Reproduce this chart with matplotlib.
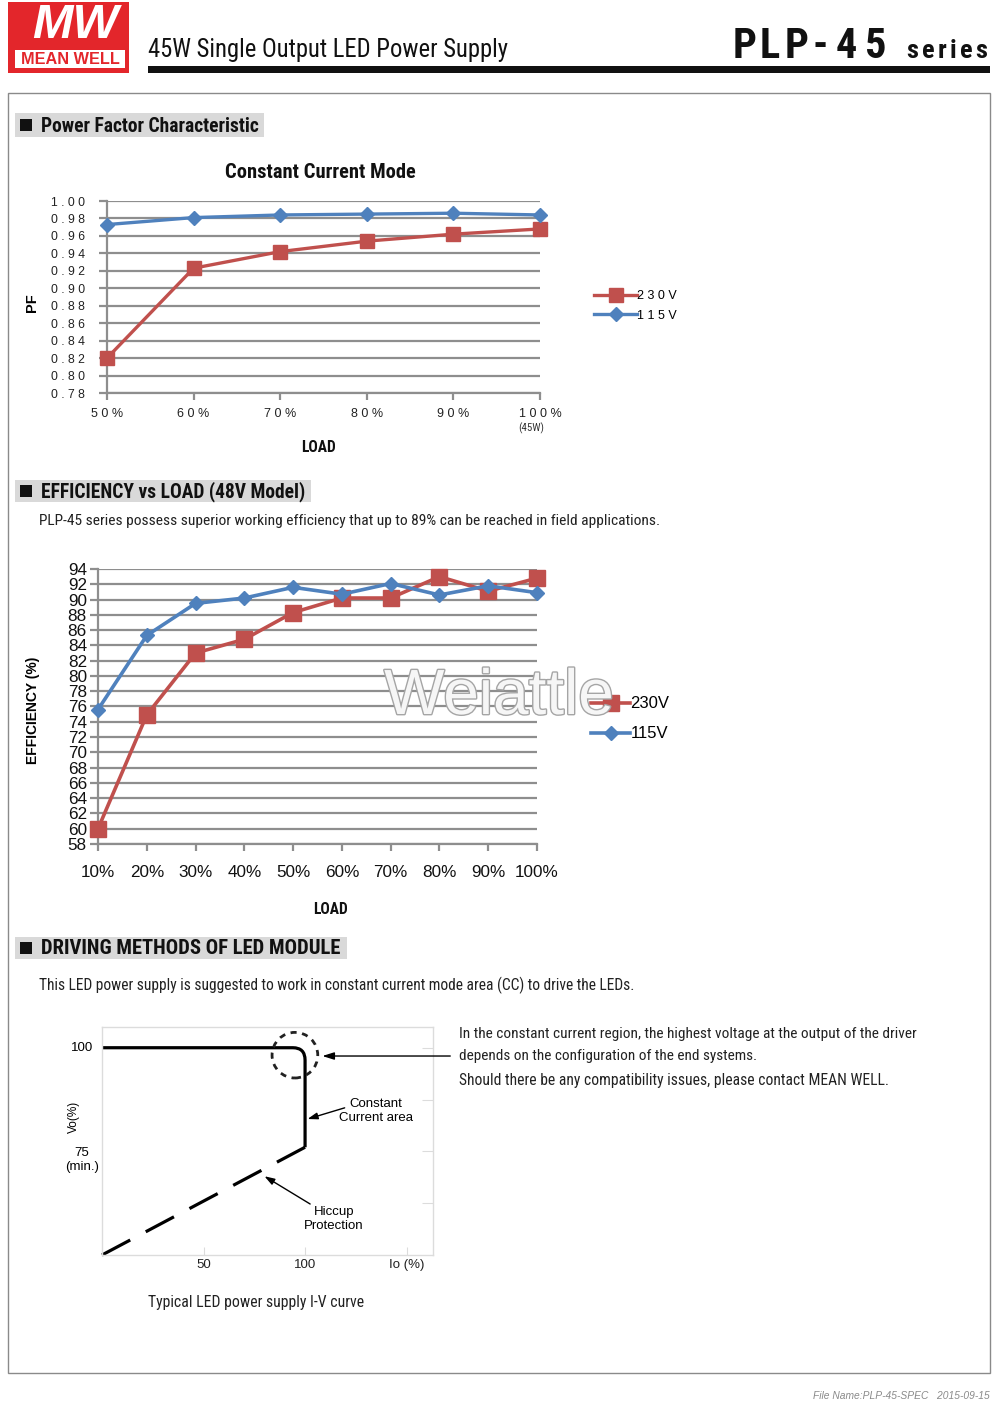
import os
import matplotlib
matplotlib.use('Agg')
import matplotlib.pyplot as plt
from matplotlib import font_manager as fm
from matplotlib.patches import Rectangle, Ellipse, PathPatch
from matplotlib.path import Path
import matplotlib.patheffects as pe

# ---------------- data ----------------
pf_load = ['5 0 %', '6 0 %', '7 0 %', '8 0 %', '9 0 %', '1 0 0 %']
pf_230 = [0.820, 0.923, 0.942, 0.954, 0.962, 0.968]
pf_115 = [0.973, 0.981, 0.984, 0.985, 0.986, 0.984]
pf_yticks = [0.78, 0.80, 0.82, 0.84, 0.86, 0.88, 0.90, 0.92, 0.94, 0.96, 0.98, 1.00]

eff_load = ['10%', '20%', '30%', '40%', '50%', '60%', '70%', '80%', '90%', '100%']
eff_230 = [60.0, 74.9, 83.0, 84.8, 88.3, 90.2, 90.2, 93.0, 91.1, 92.8]
eff_115 = [75.6, 85.3, 89.5, 90.2, 91.6, 90.7, 92.1, 90.6, 91.8, 90.9]
eff_yticks = list(range(58, 95, 2))

iv_cc_io = [0, 94, 100, 100, 100]
iv_cc_vo = [100, 100, 100, 97, 76]
iv_hiccup_io = [0, 100]
iv_hiccup_vo = [50, 76]
iv_xticks = [50, 100, 150]
iv_xlabels = ['50', '100', 'Io (%)']
iv_yticks = [62.5, 75, 87.5, 100]

# ---------------- helpers ----------------
W, H = 1000, 1402
fig = plt.figure(figsize=(10, 14.02), dpi=100)
fig.patch.set_facecolor('white')
renderer = fig.canvas.get_renderer()

SANS = ['Liberation Sans', 'DejaVu Sans']
RED = '#C0504D'
BLUE = '#4F81BD'
GRID = '#8e8e8e'
LOGO_RED = '#e3262b'


def _w(f):
    w = f.weight
    if isinstance(w, str):
        w = fm.weight_dict.get(w, 400)
    return w


def pick_condensed(bold):
    target = 700 if bold else 400
    best, best_score = None, 99.0
    for f in fm.fontManager.ttflist:
        fn = os.path.basename(f.fname).lower()
        name = f.name.lower()
        if f.style != 'normal':
            continue
        w = _w(f)
        if abs(w - target) > 120:
            continue
        cond = ('narrow' in name or 'narrow' in fn or 'condensed' in name
                or 'condensed' in fn or f.stretch in ('condensed', 'semi-condensed'))
        if not cond:
            continue
        if any(k in fn for k in ('semi', 'extra', 'ultra', 'mono', 'serif', 'italic', 'oblique')):
            continue
        if 'mono' in name or 'serif' in name or 'cjk' in name:
            continue
        if 'liberation' in name:
            score = 0
        elif 'noto sans' in name:
            score = 1
        elif 'roboto' in name:
            score = 1.5
        elif 'dejavu' in name:
            score = 2
        else:
            score = 3
        score += abs(w - target) / 1000
        if score < best_score:
            best, best_score = f, score
    if best is None:
        return fm.FontProperties(family=SANS, weight='bold' if bold else 'normal')
    return fm.FontProperties(fname=best.fname)


NARROW_R = pick_condensed(False)
NARROW_B = pick_condensed(True)


def fx(x):
    return x / W


def fy(y):
    return 1 - y / H


def axes_px(x0, y0, x1, y1):
    return fig.add_axes([fx(x0), fy(y1), (x1 - x0) / W, (y1 - y0) / H])


def rect_px(x0, y0, x1, y1, **kw):
    r = Rectangle((fx(x0), fy(y1)), (x1 - x0) / W, (y1 - y0) / H,
                  transform=fig.transFigure, **kw)
    fig.add_artist(r)
    return r


def text_px(x, y, s, **kw):
    kw.setdefault('va', 'center')
    return fig.text(fx(x), fy(y), s, **kw)


def fit_text(x, y, s, width, fp, size=12, **kw):
    p = fp.copy()
    p.set_size(size)
    t = text_px(x, y, s, fontproperties=p, **kw)
    wcur = t.get_window_extent(renderer).width
    p2 = fp.copy()
    p2.set_size(size * width / wcur)
    t.set_fontproperties(p2)
    return t


def section(y0, y1, x1, s, width):
    rect_px(15, y0, x1, y1, facecolor='#d9d9d9', edgecolor='none')
    yc = (y0 + y1) / 2
    rect_px(20, yc - 6, 32, yc + 6, facecolor='#111111', edgecolor='none')
    fit_text(41, yc + 1, s, width, NARROW_B, 14, color='#111111')


# ---------------- header ----------------
rect_px(8, 2, 129, 73, facecolor=LOGO_RED, edgecolor='none')
text_px(75, 25, 'MW', fontsize=35, fontweight='bold', style='italic', color='white',
        family=SANS, ha='center')
rect_px(15, 50, 125, 68, facecolor='white', edgecolor='none')
fit_text(70, 59.5, 'MEAN WELL', 98, fm.FontProperties(family=SANS, weight='bold'), 11,
         ha='center', color=LOGO_RED)
fit_text(148, 50, '45W Single Output LED Power Supply', 361, NARROW_R, 17, color='#111111')
for ch, cx in zip('PLP-45', [745, 770, 797, 820, 846, 876]):
    p = NARROW_B.copy()
    p.set_size(30.5)
    text_px(cx, 58, ch, fontproperties=p, ha='center', va='baseline', color='#111111')
for ch, cx in zip('series', [912, 928, 942, 953, 966, 981]):
    p = NARROW_B.copy()
    p.set_size(19)
    text_px(cx, 58, ch, fontproperties=p, ha='center', va='baseline', color='#111111')
rect_px(148, 66, 990, 73, facecolor='#111111', edgecolor='none')

# page frame
rect_px(8, 93, 990, 1373, facecolor='none', edgecolor='#8a8a8a', linewidth=1)

# ---------------- section 1: PF ----------------
section(113, 137, 264, 'Power Factor Characteristic', 219)

ax1 = axes_px(107, 201, 540, 393)
x1 = list(range(len(pf_load)))
ax1.plot(x1, pf_230, color=RED, lw=2.4, marker='s', ms=10, label='2 3 0 V', clip_on=False, zorder=4)
ax1.plot(x1, pf_115, color=BLUE, lw=2.4, marker='D', ms=7, label='1 1 5 V', clip_on=False, zorder=5)
ax1.set_xlim(0, len(pf_load) - 1)
ax1.set_ylim(pf_yticks[0], pf_yticks[-1])
ax1.set_yticks(pf_yticks)
ax1.set_yticklabels([' . '.join([f'{v:.2f}'[0], ' '.join(f'{v:.2f}'[2:])]) for v in pf_yticks],
                    family=SANS, fontsize=8.8, color='#222222')
ax1.set_xticks(x1)
ax1.set_xticklabels(pf_load, family=SANS, fontsize=9, color='#222222')
ax1.yaxis.grid(True, color=GRID, lw=1.6)
ax1.set_axisbelow(True)
for s in ['top', 'right']:
    ax1.spines[s].set_visible(False)
for s in ['left', 'bottom']:
    ax1.spines[s].set_color(GRID)
    ax1.spines[s].set_linewidth(1.6)
ax1.tick_params(axis='y', length=6, color=GRID, width=1.6, pad=10)
ax1.tick_params(axis='x', length=5, color=GRID, width=1.6, pad=6)
fit_text(320, 173, 'Constant Current Mode', 190, NARROW_B, 13, ha='center', color='#111111')
text_px(32, 303, 'PF', rotation=90, fontsize=10.5, fontweight='bold', family=SANS, ha='center')
fit_text(319, 448, 'LOAD', 35, NARROW_B, 11, ha='center', color='#111111')
fit_text(531, 428, '(45W)', 26, NARROW_R, 8, ha='center', color='#333333')
h, l = ax1.get_legend_handles_labels()
ax1.legend(h, l, loc='center left', bbox_to_anchor=(fx(588), fy(306)), bbox_transform=fig.transFigure,
           frameon=False, handlelength=3.4, handletextpad=0.0, labelspacing=0.6, borderpad=0,
           prop={'family': SANS, 'size': 9})

# ---------------- section 2: efficiency ----------------
section(480, 502, 311, 'EFFICIENCY vs LOAD (48V Model)', 266)
fit_text(39, 521, 'PLP-45 series possess superior working efficiency that up to 89% can be reached in field applications.',
         620, NARROW_R, 11, color='#222222')

ax2 = axes_px(98, 569, 537, 844)
x2 = list(range(len(eff_load)))
ax2.plot(x2, eff_230, color=RED, lw=2.6, marker='s', ms=11, label='230V', clip_on=False, zorder=4)
ax2.plot(x2, eff_115, color=BLUE, lw=2.6, marker='D', ms=7.5, label='115V', clip_on=False, zorder=5)
ax2.set_xlim(0, len(eff_load) - 1)
ax2.set_ylim(eff_yticks[0], eff_yticks[-1])
ax2.set_yticks(eff_yticks)
ax2.set_yticklabels([str(v) for v in eff_yticks], family=SANS, fontsize=12.3, color='#111111')
ax2.set_xticks(x2)
ax2.set_xticklabels(eff_load, family=SANS, fontsize=12.3, color='#111111')
ax2.yaxis.grid(True, color=GRID, lw=1.6)
ax2.set_axisbelow(True)
for s in ['top', 'right']:
    ax2.spines[s].set_visible(False)
for s in ['left', 'bottom']:
    ax2.spines[s].set_color(GRID)
    ax2.spines[s].set_linewidth(1.6)
ax2.tick_params(axis='y', length=6, color=GRID, width=1.6, pad=2)
ax2.tick_params(axis='x', length=5, color=GRID, width=1.6, pad=10)
text_px(33, 710, 'EFFICIENCY (%)', rotation=90, fontsize=10, fontweight='bold', family=SANS, ha='center')
fit_text(331, 910, 'LOAD', 35, NARROW_B, 11, ha='center', color='#111111')
h, l = ax2.get_legend_handles_labels()
ax2.legend(h, l, loc='center left', bbox_to_anchor=(fx(583), fy(719)), bbox_transform=fig.transFigure,
           frameon=False, handlelength=2.3, handletextpad=0.05, labelspacing=0.9, borderpad=0,
           prop={'family': SANS, 'size': 12})
wm = text_px(499, 697, 'Weiattle', fontsize=46, family=SANS, ha='center', color='#f6f6f6', zorder=20)
wm.set_path_effects([pe.withStroke(linewidth=2.0, foreground='#a5a5a5')])

# ---------------- section 3: driving methods ----------------
section(937, 959, 347, 'DRIVING METHODS OF LED MODULE', 301)
fit_text(39, 985, 'This LED power supply is suggested to work in constant current mode area (CC) to drive the LEDs.',
         596, NARROW_R, 11, color='#222222')

ax3 = axes_px(102, 1027, 433, 1255)
ax3.set_xlim(0, 163)
ax3.set_ylim(50, 105)
for s in ax3.spines.values():
    s.set_color('#dcdcdc')
    s.set_linewidth(1)
ax3.set_xticks(iv_xticks)
ax3.set_xticklabels(iv_xlabels, family=SANS, fontsize=9.5, color='#222222')
ax3.set_yticks(iv_yticks)
ax3.tick_params(axis='x', direction='in', length=6, color='#dcdcdc', pad=3)
ax3.tick_params(axis='y', direction='in', length=8, color='#dcdcdc', left=False, right=True,
                labelleft=False, labelright=False)

cc_path = Path(list(zip(iv_cc_io, iv_cc_vo)),
               [Path.MOVETO, Path.LINETO, Path.CURVE3, Path.CURVE3, Path.LINETO])
ax3.add_patch(PathPatch(cc_path, facecolor='none', edgecolor='black', lw=2.3, capstyle='butt'))
ax3.plot(iv_hiccup_io, iv_hiccup_vo, color='black', lw=2.3, linestyle=(0, (10, 5.5)),
         dash_capstyle='butt', clip_on=False)
ax3.add_patch(Ellipse((95, 98.2), 22.5, 11, facecolor='none', edgecolor='#222222', lw=2,
                      linestyle=(0, (2.2, 2)), clip_on=False))

arrow_kw = dict(color='black', lw=1, shrinkA=0, shrinkB=0)
ax3.annotate('', xy=(108.5, 98), xytext=(171.5, 98), annotation_clip=False,
             arrowprops=dict(arrowstyle='-|>,head_length=0.7,head_width=0.22', **arrow_kw))
ax3.annotate('', xy=(101.2, 82.8), xytext=(119.5, 85.5), annotation_clip=False,
             arrowprops=dict(arrowstyle='-|>,head_length=0.6,head_width=0.2', **arrow_kw))
ax3.annotate('', xy=(80, 69), xytext=(102.5, 62.3), annotation_clip=False,
             arrowprops=dict(arrowstyle='-|>,head_length=0.6,head_width=0.2', **arrow_kw))
text_px(376, 1111, 'Constant\nCurrent area', fontsize=9.5, family=SANS, ha='center', linespacing=1.3)
text_px(334, 1219, 'Hiccup\nProtection', fontsize=9.5, family=SANS, ha='center', linespacing=1.3)
text_px(82, 1048, '100', fontsize=9.5, family=SANS, ha='center')
text_px(82, 1160, '75\n(min.)', fontsize=9.5, family=SANS, ha='center', linespacing=1.3)
text_px(74, 1117, 'Vo(%)', rotation=90, fontsize=8.5, family=SANS, ha='center')
fit_text(148, 1302, 'Typical LED power supply I-V curve', 215, NARROW_R, 11, color='#222222')

fit_text(459, 1034, 'In the constant current region, the highest voltage at the output of the driver',
         458, NARROW_R, 11, color='#222222')
fit_text(459, 1056, 'depends on the configuration of the end systems.',
         298, NARROW_R, 11, color='#222222')
fit_text(459, 1080, 'Should there be any compatibility issues, please contact MEAN WELL.',
         428, NARROW_R, 11, color='#222222')

# footer
fit_text(990, 1396, 'File Name:PLP-45-SPEC   2015-09-15', 177, fm.FontProperties(family=SANS, style='italic'),
         8, ha='right', color='#8a8a8a')

fig.savefig('out.png', dpi=100, facecolor='white')
